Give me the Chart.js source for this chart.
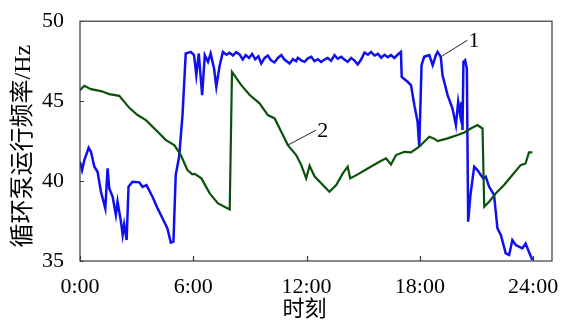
<!DOCTYPE html>
<html lang="zh-CN">
<head>
<meta charset="UTF-8">
<meta name="viewport" content="width=device-width, initial-scale=1.0">
<title>循环泵运行频率</title>
<script src="https://cdn.jsdelivr.net/npm/chart.js"></script>
<style>
  html, body { margin: 0; padding: 0; background: #fff; }
  #wrap { width: 565px; height: 320px; }
</style>
</head>
<body>
<div id="wrap"><canvas id="freqChart"></canvas></div>

<script>
// 曲线1: 时刻 (h) / 频率 (Hz)
const pump1Hours = [
  0, 0.11, 0.23, 0.46, 0.58, 0.76, 0.93, 1.11, 1.34, 1.46, 1.55, 1.73, 1.9, 1.99,
  2.17, 2.26, 2.34, 2.47, 2.57, 2.78, 3.14, 3.31, 3.52, 3.84, 4.11, 4.37, 4.63,
  4.81, 4.95, 5.07, 5.25, 5.43, 5.6, 5.87, 6.04, 6.16, 6.29, 6.47, 6.61, 6.78,
  6.92, 7.1, 7.22, 7.4,
  7.57, 7.75, 7.92, 8.1, 8.27, 8.45, 8.62, 8.78, 8.95, 9.12, 9.28, 9.45, 9.6,
  9.78, 9.95, 10.12, 10.3, 10.48, 10.66, 10.83, 11.0, 11.1, 11.28, 11.45, 11.54,
  11.72, 11.89, 12.07, 12.25, 12.42, 12.6, 12.77, 12.95, 13.12, 13.3, 13.48,
  13.65, 13.83, 14.0, 14.18, 14.36, 14.53, 14.71, 14.89, 15.07, 15.25, 15.42,
  15.6, 15.78, 15.95, 16.13, 16.3, 16.47, 16.65, 16.82, 17.0,
  17.04, 17.35, 17.53, 17.71, 17.88, 17.97, 18.09, 18.23, 18.5, 18.68, 18.85,
  18.94, 19.11, 19.2, 19.47, 19.73, 19.91, 20.03, 20.14, 20.21, 20.26, 20.31,
  20.4, 20.49, 20.56, 20.68, 20.88, 21.05, 21.23, 21.36, 21.49, 21.67, 21.93,
  22.11, 22.29, 22.55, 22.73, 22.9, 23.08, 23.25, 23.43, 23.6, 23.78, 23.96
];
const pump1Freq = [
  41.21, 40.69, 41.31, 42.08, 41.83, 40.9, 40.58, 39.33, 38.29, 40.79, 39.54, 39.02, 37.88, 38.71,
  37.46, 36.63, 37.29, 36.31, 39.64, 39.96, 39.92, 39.64, 39.75, 39.02, 38.29, 37.67, 37.04,
  36.15, 36.21, 40.38, 41.52, 44.13, 47.98, 48.08, 47.88, 46.63, 47.98, 45.38, 47.88, 47.46,
  47.98, 47.04, 45.9, 47.25,
  48.08, 47.9, 48.02, 47.85, 48.06, 47.92, 47.6, 47.88, 47.7, 47.95, 47.62, 47.8, 47.35,
  47.7, 47.85, 47.55, 47.42, 47.7, 47.88, 47.6, 47.45, 47.35, 47.62, 47.5, 47.71,
  47.55, 47.46, 47.68, 47.77, 47.5, 47.62, 47.45, 47.6, 47.7, 47.52, 47.88,
  47.65, 47.77, 47.6, 47.46, 47.7, 47.55, 47.29, 47.6, 48.04, 47.9, 48.08,
  47.85, 47.96, 47.72, 47.9, 47.75, 47.88, 47.7, 47.9, 48.08,
  46.52, 46.21, 46.0, 44.75, 43.71, 42.15, 47.25, 47.77, 47.88, 47.25, 47.88,
  48.08, 47.77, 46.63, 45.38, 44.54, 43.5, 44.96, 44.13, 44.96, 43.19, 47.46,
  47.56, 47.04, 37.46, 39.13, 40.9, 40.69, 40.38, 40.17, 40.27, 39.64, 39.13,
  37.04, 36.63, 35.48, 35.38, 36.31, 36.0, 35.9, 35.79, 36.1, 35.56, 35.06
];

// 曲线2
const pump2Hours = [
  0, 0.23, 0.58, 1.11, 1.55, 2.08, 2.61, 3.05, 3.49, 4.02, 4.55, 4.99, 5.34, 5.69,
  5.95, 6.08, 6.43, 6.87, 7.31, 7.93, 8.05, 8.54, 8.99, 9.51, 9.95, 10.31, 10.66,
  11.01, 11.45, 11.72, 11.98, 12.16, 12.42, 12.77, 13.21, 13.57, 13.92, 14.18,
  14.31, 14.71, 15.24, 15.86, 16.21, 16.47, 16.74, 17.18, 17.53, 17.97, 18.5,
  18.76, 18.94, 19.47, 20.0, 20.35, 20.7, 21.05, 21.32, 21.41, 21.67, 22.02,
  22.46, 22.9, 23.34, 23.6, 23.78, 23.96
];
const pump2Freq = [
  45.69, 45.96, 45.75, 45.63, 45.44, 45.33, 44.58, 44.13, 43.81, 43.19, 42.56, 42.25, 41.63, 40.69,
  40.42, 40.45, 40.17, 39.23, 38.6, 38.23, 46.83, 46.0, 45.38, 44.86, 44.13, 43.92, 43.08,
  42.25, 41.63, 41.0, 40.17, 40.96, 40.3, 39.86, 39.33, 39.75, 40.48, 40.9,
  40.17, 40.42, 40.79, 41.21, 41.42, 41.04, 41.63, 41.83, 41.79, 42.15, 42.77,
  42.65, 42.5, 42.67, 42.88, 43.04, 43.29, 43.5, 43.29, 38.4, 38.71, 39.23,
  39.75, 40.38, 41.0, 41.1, 41.79, 41.79
];

const xTickHours = [0, 6, 12, 18, 24];
const xTickLabels = ['0:00', '6:00', '12:00', '18:00', '24:00'];
const yTickValues = [35, 40, 45, 50];

const toPoints = (hs, vs) => hs.map((h, i) => ({ x: h, y: vs[i] }));

const serif = '"Liberation Serif", "Noto Sans CJK SC", serif';

// frame box, inward ticks, curve tags and axis titles
const frameAndLabels = {
  id: 'frameAndLabels',
  afterDraw(chart) {
    const { ctx, chartArea: a, scales: { x, y } } = chart;
    ctx.save();

    ctx.strokeStyle = '#3a3a3a';
    ctx.lineWidth = 1.2;
    ctx.strokeRect(a.left, a.top, a.right - a.left, a.bottom - a.top);

    ctx.beginPath();
    xTickHours.forEach(h => {
      const px = Math.round(x.getPixelForValue(h)) + 0.5;
      ctx.moveTo(px, a.bottom);
      ctx.lineTo(px, a.bottom - 5);
    });
    yTickValues.forEach(v => {
      const py = Math.round(y.getPixelForValue(v)) + 0.5;
      ctx.moveTo(a.left, py);
      ctx.lineTo(a.left + 4, py);
    });
    ctx.stroke();

    // leader lines with curve numbers
    const tags = [
      { text: '1', from: [19.11, 47.77], to: [20.52, 48.81] },
      { text: '2', from: [11.01, 42.25], to: [12.51, 43.19] }
    ];
    ctx.strokeStyle = '#222';
    ctx.lineWidth = 1;
    ctx.fillStyle = '#000';
    ctx.font = '22px ' + serif;
    ctx.textAlign = 'left';
    ctx.textBaseline = 'middle';
    tags.forEach(t => {
      const x0 = x.getPixelForValue(t.from[0]), y0 = y.getPixelForValue(t.from[1]);
      const x1 = x.getPixelForValue(t.to[0]), y1 = y.getPixelForValue(t.to[1]);
      ctx.beginPath();
      ctx.moveTo(x0, y0);
      ctx.lineTo(x1, y1);
      ctx.stroke();
      ctx.fillText(t.text, x1 + 1, y1 + 1);
    });

    // axis titles
    ctx.textAlign = 'center';
    ctx.font = '22px ' + serif;
    ctx.fillText('时刻', x.getPixelForValue(12) - 2, 310);

    ctx.translate(24, (a.top + a.bottom) / 2 + 5);
    ctx.rotate(-Math.PI / 2);
    ctx.font = '24px ' + serif;
    ctx.fillText('循环泵运行频率/Hz', 0, 0);

    ctx.restore();
  }
};

new Chart(document.getElementById('freqChart'), {
  type: 'line',
  data: {
    datasets: [{
      label: '1',
      data: toPoints(pump1Hours, pump1Freq),
      borderColor: '#1010ee',
      borderWidth: 2.5,
      pointRadius: 0,
      tension: 0,
      order: 1
    }, {
      label: '2',
      data: toPoints(pump2Hours, pump2Freq),
      borderColor: '#0a520a',
      borderWidth: 2.2,
      pointRadius: 0,
      tension: 0,
      order: 0
    }]
  },
  options: {
    responsive: true,
    maintainAspectRatio: false,
    animation: false,
    layout: { padding: { top: 21, right: 13, left: 0, bottom: 0 } },
    plugins: {
      legend: { display: false },
      tooltip: { enabled: false }
    },
    scales: {
      x: {
        type: 'linear',
        min: 0,
        max: 25,
        grid: { display: false },
        border: { display: false },
        afterBuildTicks: s => { s.ticks = xTickHours.map(v => ({ value: v })); },
        afterFit: s => { s.height = 59; },
        ticks: {
          color: '#000',
          padding: 5,
          maxRotation: 0,
          font: { family: serif, size: 22 },
          callback: (v, i) => xTickLabels[i]
        }
      },
      y: {
        min: 35,
        max: 50,
        grid: { display: false },
        border: { display: false },
        afterBuildTicks: s => { s.ticks = yTickValues.map(v => ({ value: v })); },
        afterFit: s => { s.width = 80; },
        ticks: {
          color: '#000',
          padding: 8,
          font: { family: serif, size: 22 }
        }
      }
    }
  },
  plugins: [frameAndLabels]
});
</script>
</body>
</html>
